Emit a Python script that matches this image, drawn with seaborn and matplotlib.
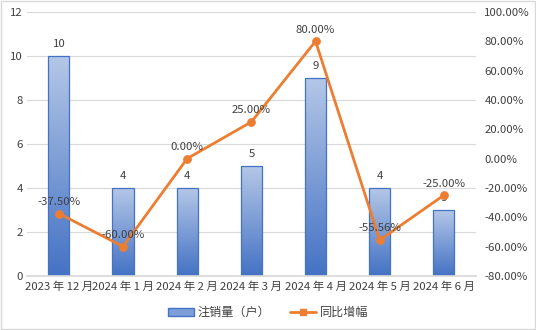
import numpy as np
import pandas as pd
import matplotlib
matplotlib.use("Agg")
import matplotlib.pyplot as plt
import seaborn as sns
from matplotlib.lines import Line2D
from matplotlib.patches import Patch

months = ["2023 年 12 月", "2024 年 1 月", "2024 年 2 月", "2024 年 3 月",
          "2024 年 4 月", "2024 年 5 月", "2024 年 6 月"]
cancellations = [10, 4, 4, 5, 9, 4, 3]
yoy_growth = [-37.50, -60.00, 0.00, 25.00, 80.00, -55.56, -25.00]
bar_label = "注销量（户）"
line_label = "同比增幅"

sns.set_theme(style="white")
plt.rcParams["font.family"] = ["Noto Sans CJK SC", "DejaVu Sans"]
plt.rcParams["axes.unicode_minus"] = False

df = pd.DataFrame({"month": months, "count": cancellations, "yoy": yoy_growth})

fig = plt.figure(figsize=(5.36, 3.30), dpi=100)
ax = fig.add_axes([0.050, 0.164, 0.838, 0.800])

bar_dark = "#4472c4"
bar_light = "#b4c7e7"
line_color = "#ed7d31"
text_color = "#404040"
fs = 8.2

sns.barplot(data=df, x="month", y="count", ax=ax, width=0.33,
            color=bar_dark, edgecolor=bar_dark, linewidth=0.9, saturation=1)

ax.set_ylim(0, 12)
ax.set_xlim(-0.5, len(months) - 0.5)
ax.set_yticks(range(0, 13, 2))
ax.set_xlabel("")
ax.set_ylabel("")
ax.yaxis.grid(True, color="#d9d9d9", linewidth=0.8)
ax.set_axisbelow(True)
for s in ["top", "right", "left"]:
    ax.spines[s].set_visible(False)
ax.spines["bottom"].set_color("#d9d9d9")
ax.tick_params(axis="both", length=0, labelsize=fs, labelcolor=text_color, pad=3)
ax.tick_params(axis="x", pad=4)

# vertical gradient fill inside each bar
grad = np.linspace(0, 1, 256).reshape(-1, 1)
cmap = matplotlib.colors.LinearSegmentedColormap.from_list("barfill", [bar_dark, bar_light])
for p in ax.patches:
    x0, y0 = p.get_x(), p.get_y()
    w, h = p.get_width(), p.get_height()
    im = ax.imshow(grad, cmap=cmap, aspect="auto", origin="lower",
                   extent=[x0, x0 + w, y0, y0 + h], zorder=p.get_zorder())
    im.set_clip_path(p)
    p.set_facecolor("none")
    p.set_zorder(p.get_zorder() + 0.1)
    ax.text(x0 + w / 2, h + 0.3, f"{int(h)}", ha="center", va="bottom",
            fontsize=fs, color=text_color)
ax.set_xlim(-0.5, len(months) - 0.5)
ax.set_ylim(0, 12)

ax2 = ax.twinx()
sns.lineplot(data=df, x="month", y="yoy", ax=ax2, color=line_color, linewidth=2,
             marker="o", markersize=5.5, markeredgecolor=line_color, sort=False)
ax2.set_ylim(-80, 100)
ax2.set_yticks(range(-80, 101, 20))
ax2.set_yticklabels([f"{v:.2f}%" for v in range(-80, 101, 20)])
ax2.set_ylabel("")
ax2.set_xlabel("")
for s in ax2.spines.values():
    s.set_visible(False)
ax2.tick_params(axis="y", length=0, labelsize=fs, labelcolor=text_color, pad=6)
ax2.set_xlim(-0.5, len(months) - 0.5)
for i, v in enumerate(yoy_growth):
    ax2.text(i, v + 4.5, f"{v:.2f}%", ha="center", va="bottom",
             fontsize=fs, color=text_color)

handles = [Patch(facecolor="#7f9fd8", edgecolor=bar_dark, label=bar_label),
           Line2D([0], [0], color=line_color, linewidth=2, marker="s",
                  markersize=4, label=line_label)]
fig.legend(handles=handles, loc="lower center", bbox_to_anchor=(0.5, 0.0),
           ncol=2, frameon=False, fontsize=fs + 0.5, labelcolor=text_color,
           handlelength=2.2, columnspacing=1.6, handletextpad=0.3)

fig.patches.append(matplotlib.patches.Rectangle((0.001, 0.002), 0.997, 0.995,
                   transform=fig.transFigure, fill=False, edgecolor="#d9d9d9",
                   linewidth=1))

fig.savefig("out.png", dpi=100)
